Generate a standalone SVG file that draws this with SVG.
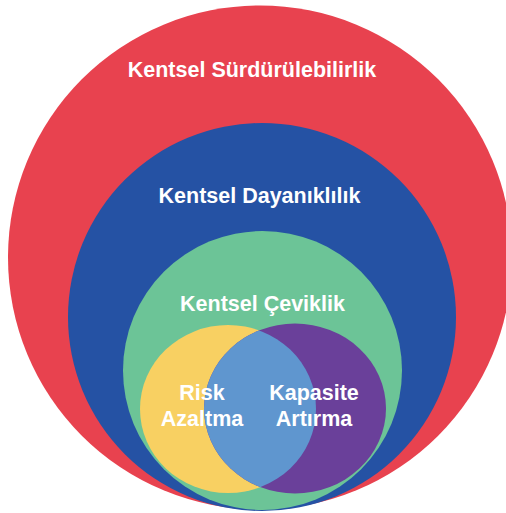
<svg xmlns="http://www.w3.org/2000/svg" width="506" height="513" viewBox="0 0 506 513">
  <style>
    .lbl { font-family: "Liberation Sans", Arial, sans-serif; font-weight: bold; font-size: 21.5px; fill: #ffffff; text-anchor: middle; }
  </style>
  <defs>
    <clipPath id="clip-kapasite">
      <ellipse cx="295" cy="408.5" rx="91" ry="85"/>
    </clipPath>
  </defs>
  <rect width="506" height="513" fill="#ffffff"/>

  <g id="surdurulebilirlik">
    <circle cx="260" cy="257.5" r="252" fill="#E8424F"/>
    <text class="lbl" x="252" y="77">Kentsel Sürdürülebilirlik</text>
  </g>

  <g id="dayaniklilik">
    <circle cx="262" cy="317" r="194" fill="#2552A4"/>
    <text class="lbl" x="259.5" y="203">Kentsel Dayanıklılık</text>
  </g>

  <g id="ceviklik">
    <circle cx="262.5" cy="370.5" r="139.5" fill="#6CC497"/>
    <text class="lbl" x="262.5" y="311">Kentsel Çeviklik</text>
  </g>

  <g id="risk-azaltma">
    <ellipse cx="228" cy="409" rx="88" ry="84" fill="#F8D062"/>
  </g>

  <g id="kapasite-artirma">
    <ellipse cx="295" cy="408.5" rx="91" ry="85" fill="#6A409A"/>
  </g>

  <!-- overlap of the two inner sets -->
  <g id="kesisim">
    <ellipse cx="228" cy="409" rx="88" ry="84" fill="#5F96CF" clip-path="url(#clip-kapasite)"/>
  </g>

  <g id="inner-labels">
    <text class="lbl" x="202" y="400">Risk</text>
    <text class="lbl" x="202" y="426">Azaltma</text>
    <text class="lbl" x="314" y="400">Kapasite</text>
    <text class="lbl" x="314" y="426">Artırma</text>
  </g>
</svg>
